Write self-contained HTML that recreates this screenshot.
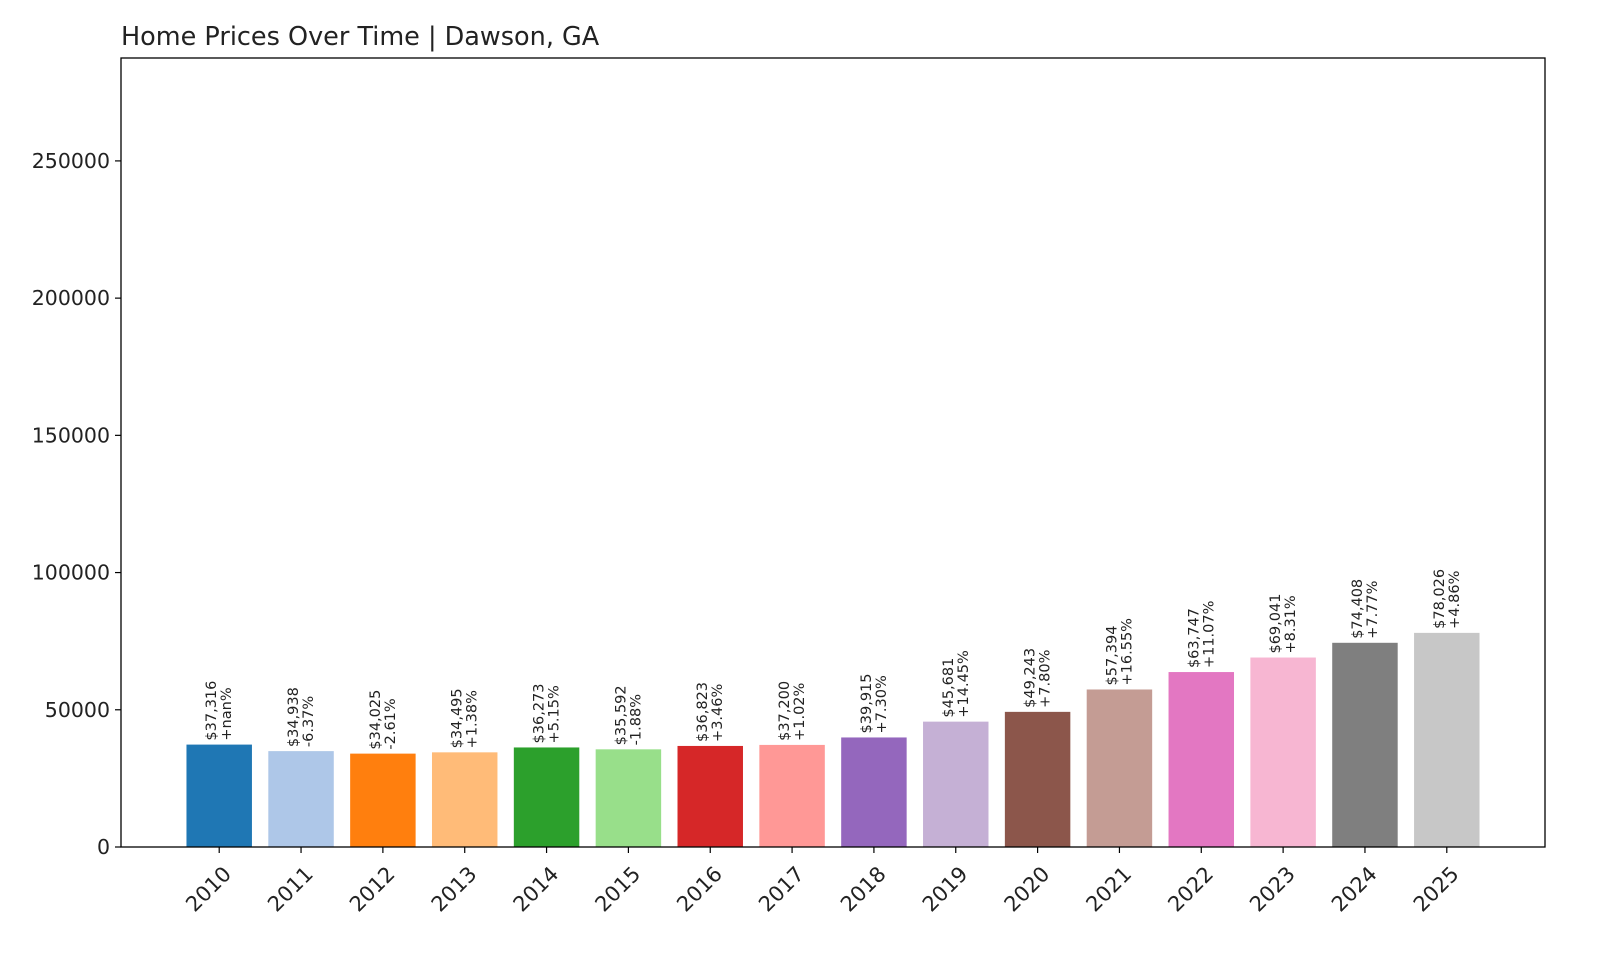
<!DOCTYPE html>
<html><head><meta charset="utf-8"><style>body{margin:0;background:#fff}svg{display:block;font-family:"DejaVu Sans","Liberation Sans",sans-serif}</style></head>
<body>
<svg id="chart" width="1600" height="960" xmlns="http://www.w3.org/2000/svg">
<rect width="1600" height="960" fill="#fff"/>
<text x="121" y="45" font-size="25.5" fill="#222">Home Prices Over Time | Dawson, GA</text>
<g id="bars"></g><g id="axes"></g>
<rect x="121" y="58" width="1424" height="789" fill="none" stroke="#000" stroke-width="1.3"/>
</svg>
<script>
const years=["2010","2011","2012","2013","2014","2015","2016","2017","2018","2019","2020","2021","2022","2023","2024","2025"];
const prices=[37316,34938,34025,34495,36273,35592,36823,37200,39915,45681,49243,57394,63747,69041,74408,78026];
const changes=["+nan%","-6.37%","-2.61%","+1.38%","+5.15%","-1.88%","+3.46%","+1.02%","+7.30%","+14.45%","+7.80%","+16.55%","+11.07%","+8.31%","+7.77%","+4.86%"];
const yTicks=[0,50000,100000,150000,200000,250000];
const colors=["#1f77b4","#aec7e8","#ff7f0e","#ffbb78","#2ca02c","#98df8a","#d62728","#ff9896","#9467bd","#c5b0d5","#8c564b","#c49c94","#e377c2","#f7b6d2","#7f7f7f","#c7c7c7"];
const L=121,R=1545,T=58,B=847,yMax=287500;
const xs=i=>L+(i+1.2)/(years.length-1+2.4)*(R-L);
const ys=v=>B-v/yMax*(B-T);
const step=(R-L)/(years.length-1+2.4),bw=step*0.8;
const NS="http://www.w3.org/2000/svg";
const bars=document.getElementById('bars'),axes=document.getElementById('axes');
function mk(tag,attrs,parent){const e=document.createElementNS(NS,tag);for(const k in attrs)e.setAttribute(k,attrs[k]);parent.appendChild(e);return e;}
prices.forEach((p,i)=>{
 const x=xs(i),y=ys(p);
 const r=mk('rect',{x:x-bw/2,y:y,width:bw,height:B-y,fill:colors[i]},bars);
 
 
 const t=mk('text',{transform:`translate(${x},${y-4}) rotate(-90)`,'font-size':14.5,fill:'#222'},bars);
 
 
 const a=mk('tspan',{x:0,y:-3},t);a.textContent='$'+p.toLocaleString('en-US');
 const b=mk('tspan',{x:0,y:12},t);b.textContent=changes[i];
 mk('line',{x1:x,x2:x,y1:B,y2:B+6,stroke:'#000','stroke-width':1.2},axes);
 const tl=mk('text',{transform:`translate(${x+9},${B+24}) rotate(-45)`,'font-size':21,fill:'#222','text-anchor':'end','dominant-baseline':'middle'},axes);
 
 
 tl.textContent=years[i];
});
yTicks.forEach(v=>{
 const y=ys(v);
 mk('line',{x1:L-6,x2:L,y1:y,y2:y,stroke:'#000','stroke-width':1.2},axes);
 const t=mk('text',{x:L-11,y:y+7,'font-size':20.5,fill:'#222','text-anchor':'end'},axes);
 
 
 t.textContent=v;
});
</script>
</body></html>
